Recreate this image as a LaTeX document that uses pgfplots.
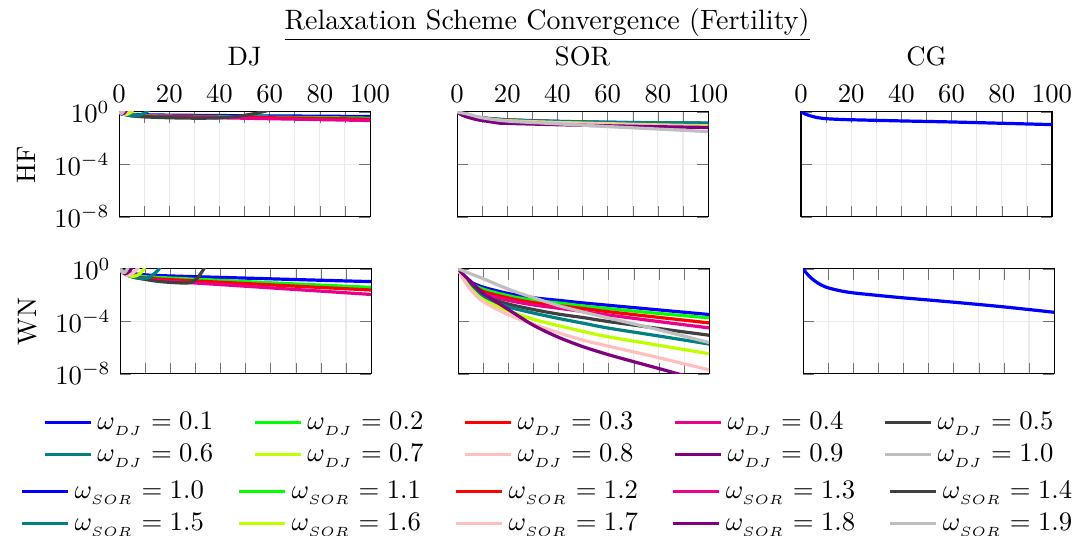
\documentclass[border=0pt]{standalone}
\usepackage{pgfplots}
\pgfplotsset{compat=1.18}

\definecolor{cBlue}{RGB}{0,0,255}
\definecolor{cGreen}{RGB}{0,255,0}
\definecolor{cRed}{RGB}{255,0,0}
\definecolor{cPink}{RGB}{235,0,140}
\definecolor{cDark}{RGB}{64,64,64}
\definecolor{cTeal}{RGB}{0,128,128}
\definecolor{cLime}{RGB}{191,255,0}
\definecolor{cLPink}{RGB}{255,191,191}
\definecolor{cPurple}{RGB}{128,0,128}
\definecolor{cLGray}{RGB}{191,191,191}

\pgfplotscreateplotcyclelist{relax}{cBlue\\cGreen\\cRed\\cPink\\cDark\\cTeal\\cLime\\cLPink\\cPurple\\cLGray\\}

\pgfplotsset{
  relaxpanel/.style={
    scale only axis, width=94pt, height=39.3pt,
    xmin=0, xmax=100, ymin=1e-8, ymax=1,
    xtick={0,20,...,100}, minor xtick={10,30,...,90},
    ytick={1e-8,1e-4,1}, yminorticks=false,
    grid=both, major grid style={black!8}, minor grid style={black!8},
    tick style={black!55}, major tick length=4pt, minor tick length=4pt,
    cycle list name=relax, no markers,
    every axis plot/.append style={very thick, smooth},
    title style={at={(0.5,1)}, anchor=base, yshift=11.2pt},
    legend style={draw=none, fill=none, legend columns=5, anchor=north},
  },
  relaxtop/.style={xticklabel pos=upper},
  relaxlow/.style={xticklabels={}},
  relaxinner/.style={yticklabels={}},
}

\begin{document}
\begin{tikzpicture}

% ---------------- HF row ----------------
\begin{semilogyaxis}[relaxpanel, relaxtop, name=djhf, at={(0,0)}, anchor=north west,
  title={DJ}, ylabel={HF}]
\addplot coordinates {(0,1)(2,0.794)(5,0.661)(10,0.603)(20,0.562)(40,0.525)(60,0.490)(80,0.468)(100,0.437)};
\addplot coordinates {(0,1)(2,0.741)(5,0.603)(10,0.525)(20,0.479)(40,0.437)(60,0.398)(80,0.363)(100,0.331)};
\addplot coordinates {(0,1)(2,0.708)(5,0.562)(10,0.479)(20,0.437)(40,0.398)(60,0.355)(80,0.316)(100,0.275)};
\addplot coordinates {(0,1)(2,0.676)(5,0.525)(10,0.457)(20,0.407)(40,0.355)(60,0.302)(80,0.257)(100,0.219)};
\addplot coordinates {(0,1)(2,0.676)(5,0.501)(10,0.417)(20,0.355)(30,0.331)(38,0.339)(43,0.380)(48,0.479)(52,0.631)(56,0.891)(60,1.41)(65,3.16)};
\addplot coordinates {(0,1)(2,0.661)(4,0.525)(6,0.501)(8,0.562)(10,0.794)(12,1.41)(14,3.16)};
\addplot coordinates {(0,1)(1,0.759)(2,0.631)(3,0.631)(4,0.759)(5,1.05)(6,2)};
\addplot coordinates {(0,1)(1,0.708)(2,0.661)(3,0.891)(4,1.58)};
\addplot coordinates {(0,1)(1,0.676)(2,0.794)(3,1.41)};
\addplot coordinates {(0,1)(1,0.759)(2,1.26)(3,3.16)};
\end{semilogyaxis}

\begin{semilogyaxis}[relaxpanel, relaxtop, relaxinner, name=sorhf, at={(126.6pt,0)}, anchor=north west,
  title={SOR}]
\addplot coordinates {(0,1)(2,0.708)(5,0.501)(10,0.355)(20,0.251)(40,0.191)(60,0.162)(80,0.148)(100,0.138)};
\addplot coordinates {(0,1)(2,0.692)(5,0.490)(10,0.347)(20,0.245)(40,0.182)(60,0.155)(80,0.141)(100,0.129)};
\addplot coordinates {(0,1)(2,0.676)(5,0.479)(10,0.339)(20,0.240)(40,0.178)(60,0.148)(80,0.132)(100,0.117)};
\addplot coordinates {(0,1)(2,0.661)(5,0.468)(10,0.331)(20,0.229)(40,0.170)(60,0.141)(80,0.120)(100,0.105)};
\addplot coordinates {(0,1)(2,0.646)(5,0.457)(10,0.316)(20,0.219)(40,0.162)(60,0.132)(80,0.112)(100,0.0977)};
\addplot coordinates {(0,1)(2,0.631)(5,0.447)(10,0.324)(20,0.234)(40,0.182)(60,0.158)(80,0.145)(100,0.135)};
\addplot coordinates {(0,1)(2,0.617)(5,0.437)(10,0.309)(20,0.214)(40,0.155)(60,0.126)(80,0.102)(100,0.0871)};
\addplot coordinates {(0,1)(2,0.603)(5,0.417)(10,0.295)(20,0.204)(40,0.148)(60,0.117)(80,0.0955)(100,0.0776)};
\addplot coordinates {(0,1)(2,0.562)(5,0.355)(8,0.251)(10,0.219)(17,0.138)(20,0.132)(40,0.105)(60,0.0871)(80,0.0741)(100,0.0646)};
\addplot coordinates {(0,1)(2,0.832)(5,0.631)(10,0.355)(20,0.200)(40,0.123)(60,0.0759)(80,0.0490)(100,0.0316)};
\end{semilogyaxis}

\begin{semilogyaxis}[relaxpanel, relaxtop, relaxinner, name=cghf, at={(255.4pt,0)}, anchor=north west,
  title={CG}]
\addplot coordinates {(0,1)(1,0.794)(2,0.646)(3,0.550)(5,0.427)(7,0.355)(10,0.302)(15,0.269)(20,0.251)(40,0.204)(60,0.170)(80,0.135)(100,0.107)};
\end{semilogyaxis}

% ---------------- WN row ----------------
\begin{semilogyaxis}[relaxpanel, relaxlow, name=djwn, at={(0.4pt,-58.8pt)}, anchor=north west,
  ylabel={WN},
  legend style={at={(1.717,-0.257)},
    /tikz/every even column/.append style={column sep=13pt}}]
\addplot coordinates {(0,1)(2,0.631)(5,0.447)(10,0.347)(20,0.288)(40,0.224)(60,0.174)(80,0.135)(100,0.107)};
\addlegendentry{$\omega_{_{DJ}} = 0.1$}
\addplot coordinates {(0,1)(2,0.525)(5,0.355)(10,0.251)(20,0.200)(40,0.132)(60,0.0871)(80,0.0575)(100,0.0389)};
\addlegendentry{$\omega_{_{DJ}} = 0.2$}
\addplot coordinates {(0,1)(2,0.468)(5,0.295)(10,0.200)(20,0.151)(40,0.0955)(60,0.0603)(80,0.0380)(100,0.0245)};
\addlegendentry{$\omega_{_{DJ}} = 0.3$}
\addplot coordinates {(0,1)(2,0.417)(5,0.251)(10,0.166)(20,0.112)(40,0.0631)(60,0.0355)(80,0.0200)(100,0.0112)};
\addlegendentry{$\omega_{_{DJ}} = 0.4$}
\addplot coordinates {(0,1)(2,0.398)(5,0.240)(10,0.158)(15,0.112)(20,0.0933)(25,0.0832)(27,0.0851)(29,0.105)(31,0.224)(33,0.794)(35,3.16)};
\addlegendentry{$\omega_{_{DJ}} = 0.5$}
\addplot coordinates {(0,1)(2,0.398)(5,0.240)(8,0.191)(11,0.200)(12,0.251)(14,0.501)(15.5,1)(17,3.16)};
\addlegendentry{$\omega_{_{DJ}} = 0.6$}
\addplot coordinates {(0,1)(2,0.380)(4,0.282)(6,0.282)(8,0.447)(9.5,1)(11,3.16)};
\addlegendentry{$\omega_{_{DJ}} = 0.7$}
\addplot coordinates {(0,1)(2,0.380)(4,0.355)(5.5,0.562)(7,1.12)(8,2.51)};
\addlegendentry{$\omega_{_{DJ}} = 0.8$}
\addplot coordinates {(0,1)(1,0.501)(2,0.417)(3,0.501)(4,0.794)(5,1.58)(6,3.98)};
\addlegendentry{$\omega_{_{DJ}} = 0.9$}
\addplot coordinates {(0,1)(1,0.501)(2,0.562)(3,1.12)(4,3.16)};
\addlegendentry{$\omega_{_{DJ}} = 1.0$}
\end{semilogyaxis}

\begin{semilogyaxis}[relaxpanel, relaxlow, relaxinner, name=sorwn, at={(127pt,-58.8pt)}, anchor=north west,
  legend style={at={(0.362,-0.914)},
    /tikz/every even column/.append style={column sep=10.6pt}}]
\addplot coordinates {(0,1)(2,0.282)(5,0.1)(10,0.398e-1)(20,0.132e-1)(30,0.631e-2)(40,0.398e-2)(50,0.251e-2)(60,0.166e-2)(80,0.741e-3)(100,0.331e-3)};
\addlegendentry{$\omega_{_{SOR}} = 1.0$}
\addplot coordinates {(0,1)(2,0.263)(5,0.832e-1)(10,0.282e-1)(20,0.891e-2)(30,0.398e-2)(40,0.251e-2)(50,0.145e-2)(60,0.933e-3)(80,0.398e-3)(100,0.186e-3)};
\addlegendentry{$\omega_{_{SOR}} = 1.1$}
\addplot coordinates {(0,1)(2,0.251)(5,0.708e-1)(10,0.191e-1)(20,0.603e-2)(30,0.263e-2)(40,0.158e-2)(50,0.933e-3)(60,0.537e-3)(80,0.2e-3)(100,0.759e-4)};
\addlegendentry{$\omega_{_{SOR}} = 1.2$}
\addplot coordinates {(0,1)(2,0.240)(5,0.603e-1)(10,0.132e-1)(20,0.398e-2)(30,0.178e-2)(40,0.1e-2)(50,0.550e-3)(60,0.302e-3)(80,0.955e-4)(100,0.316e-4)};
\addlegendentry{$\omega_{_{SOR}} = 1.3$}
\addplot coordinates {(0,1)(2,0.224)(5,0.479e-1)(10,0.891e-2)(20,0.209e-2)(30,0.794e-3)(40,0.355e-3)(50,0.191e-3)(60,0.955e-4)(80,0.282e-4)(100,0.871e-5)};
\addlegendentry{$\omega_{_{SOR}} = 1.4$}
\addplot coordinates {(0,1)(2,0.209)(5,0.398e-1)(10,0.631e-2)(20,0.126e-2)(30,0.427e-3)(40,0.166e-3)(50,0.708e-4)(60,0.302e-4)(80,0.759e-5)(100,0.186e-5)};
\addlegendentry{$\omega_{_{SOR}} = 1.5$}
\addplot coordinates {(0,1)(2,0.191)(5,0.316e-1)(10,0.447e-2)(20,0.631e-3)(30,0.141e-3)(40,0.468e-4)(50,0.166e-4)(60,0.646e-5)(80,0.148e-5)(100,0.339e-6)};
\addlegendentry{$\omega_{_{SOR}} = 1.6$}
\addplot coordinates {(0,1)(2,0.178)(5,0.251e-1)(10,0.316e-2)(20,0.316e-3)(30,0.603e-4)(40,0.135e-4)(50,0.355e-5)(60,0.126e-5)(80,0.166e-6)(100,0.2e-7)};
\addlegendentry{$\omega_{_{SOR}} = 1.7$}
\addplot coordinates {(0,1)(2,0.380)(5,0.112)(10,0.141e-1)(20,0.794e-3)(30,0.501e-4)(40,0.603e-5)(50,0.112e-5)(60,0.282e-6)(70,0.832e-7)(80,0.251e-7)(90,0.741e-8)(100,0.224e-8)};
\addlegendentry{$\omega_{_{SOR}} = 1.8$}
\addplot coordinates {(0,1)(2,0.708)(5,0.417)(10,0.178)(20,0.282e-1)(30,0.631e-2)(40,0.158e-2)(50,0.501e-3)(60,0.178e-3)(80,0.224e-4)(100,0.240e-5)};
\addlegendentry{$\omega_{_{SOR}} = 1.9$}
\end{semilogyaxis}

\begin{semilogyaxis}[relaxpanel, relaxlow, relaxinner, name=cgwn, at={(256.2pt,-58.8pt)}, anchor=north west]
\addplot coordinates {(0,1)(1,0.562)(2,0.339)(3,0.219)(4,0.148)(6,0.0794)(8,0.0501)(10,0.0355)(15,0.0209)(20,0.0148)(30,0.00933)(40,0.00617)(60,0.00288)(80,0.00126)(100,0.00049)};
\end{semilogyaxis}

% overall heading
\node[anchor=base, xshift=160.3pt, yshift=31pt, font=\fontsize{10.5}{12}\selectfont]
  at (djhf.north west) {\underline{Relaxation Scheme Convergence (Fertility)}};

% page area
\pgfresetboundingbox
\path (-44.6pt,41.9pt) rectangle (359.9pt,-158.8pt);

\end{tikzpicture}
\end{document}
